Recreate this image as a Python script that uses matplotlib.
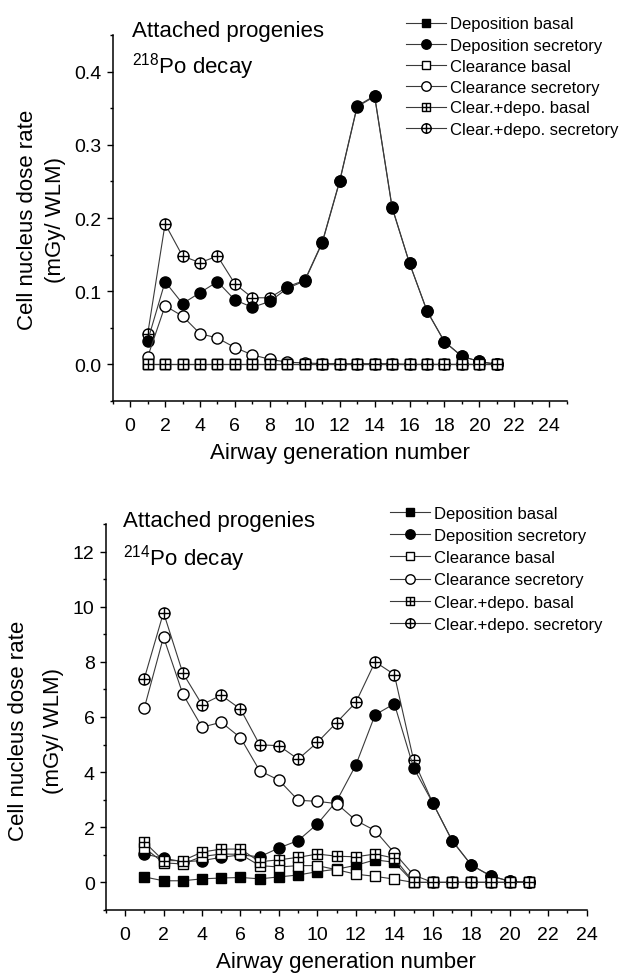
import matplotlib
matplotlib.use("Agg")
import matplotlib.pyplot as plt
from matplotlib.path import Path
from matplotlib.ticker import MultipleLocator, FixedLocator, FormatStrFormatter

plt.rcParams['font.family'] = ['Liberation Sans', 'DejaVu Sans']
plt.rcParams['mathtext.fontset'] = 'custom'
plt.rcParams['mathtext.rm'] = 'Liberation Sans'

# ---------------- data ----------------
generation = [1, 2, 3, 4, 5, 6, 7, 8, 9, 10, 11, 12, 13, 14, 15, 16, 17, 18, 19, 20, 21]

# 218Po decay (top panel)
dep_basal_218 = [0.0, 0.0, 0.0, 0.0, 0.0, 0.0, 0.0, 0.0, 0.0, 0.0, 0.0, 0.0, 0.0, 0.0, 0.0, 0.0, 0.0, 0.0, 0.0, 0.0, 0.0]
dep_sec_218 = [0.032, 0.113, 0.083, 0.098, 0.113, 0.088, 0.078, 0.086, 0.104, 0.114, 0.166, 0.250, 0.352, 0.366, 0.214, 0.138, 0.073, 0.031, 0.011, 0.004, 0.000]
clr_basal_218 = [0.0, 0.0, 0.0, 0.0, 0.0, 0.0, 0.0, 0.0, 0.0, 0.0, 0.0, 0.0, 0.0, 0.0, 0.0, 0.0, 0.0, 0.0, 0.0, 0.0, 0.0]
clr_sec_218 = [0.010, 0.080, 0.066, 0.042, 0.036, 0.023, 0.013, 0.007, 0.003, 0.002, 0.001, 0.001, 0.001, 0.001, 0.001, 0.0, 0.0, 0.0, 0.0, 0.0, 0.0]
cd_basal_218 = [0.0, 0.0, 0.0, 0.0, 0.0, 0.0, 0.0, 0.0, 0.0, 0.0, 0.0, 0.0, 0.0, 0.0, 0.0, 0.0, 0.0, 0.0, 0.0, 0.0, 0.0]
cd_sec_218 = [0.041, 0.192, 0.148, 0.139, 0.148, 0.110, 0.091, 0.091, 0.106, 0.115, 0.167, 0.251, 0.353, 0.367, 0.215, 0.138, 0.073, 0.031, 0.011, 0.004, 0.000]

# 214Po decay (bottom panel)
dep_basal_214 = [0.20, 0.06, 0.06, 0.13, 0.16, 0.18, 0.13, 0.20, 0.27, 0.39, 0.48, 0.62, 0.82, 0.73, 0.0, 0.0, 0.0, 0.0, 0.0, 0.0, 0.0]
dep_sec_214 = [1.03, 0.88, 0.75, 0.79, 0.91, 1.00, 0.93, 1.25, 1.52, 2.12, 2.95, 4.26, 6.08, 6.48, 4.16, 2.88, 1.52, 0.63, 0.24, 0.04, 0.0]
clr_basal_214 = [1.26, 0.71, 0.67, 0.94, 1.03, 1.02, 0.61, 0.56, 0.61, 0.61, 0.46, 0.30, 0.22, 0.12, 0.0, 0.0, 0.0, 0.0, 0.0, 0.0, 0.0]
clr_sec_214 = [6.32, 8.90, 6.84, 5.63, 5.81, 5.25, 4.05, 3.71, 2.98, 2.94, 2.86, 2.25, 1.88, 1.07, 0.27, 0.0, 0.0, 0.0, 0.0, 0.0, 0.0]
cd_basal_214 = [1.47, 0.79, 0.79, 1.10, 1.21, 1.21, 0.75, 0.82, 0.91, 1.03, 0.95, 0.93, 1.03, 0.88, 0.0, 0.0, 0.0, 0.0, 0.0, 0.0, 0.0]
cd_sec_214 = [7.39, 9.79, 7.60, 6.45, 6.79, 6.29, 4.99, 4.96, 4.47, 5.08, 5.80, 6.53, 8.00, 7.54, 4.44, 2.88, 1.52, 0.63, 0.24, 0.04, 0.0]

labels = ['Deposition basal', 'Deposition secretory', 'Clearance basal',
          'Clearance secretory', 'Clear.+depo. basal', 'Clear.+depo. secretory']

# ---------------- markers ----------------
M, L, C = Path.MOVETO, Path.LINETO, Path.CLOSEPOLY
cross = Path([(-1, 0), (1, 0), (0, -1), (0, 1)], [M, L, M, L])
circle_plus = Path.make_compound_path(Path.unit_circle(), cross)
sq = Path([(-1, -1), (1, -1), (1, 1), (-1, 1), (-1, -1)], [M, L, L, L, C])
square_plus = Path.make_compound_path(sq, cross)

LINE_COLOR = '#3a3a3a'
styles = {
    'Deposition basal': dict(marker='s', mfc='black', ms=7.2, z=5),
    'Deposition secretory': dict(marker='o', mfc='black', ms=8.0, z=3),
    'Clearance basal': dict(marker='s', mfc='white', ms=7.2, z=5),
    'Clearance secretory': dict(marker='o', mfc='white', ms=8.0, z=4),
    'Clear.+depo. basal': dict(marker=square_plus, mfc='white', ms=7.2, z=6),
    'Clear.+depo. secretory': dict(marker=circle_plus, mfc='white', ms=8.0, z=2),
}


def draw(ax, series):
    handles = []
    for lab, vals in zip(labels, series):
        st = styles[lab]
        h, = ax.plot(generation, vals, color=LINE_COLOR, lw=0.8,
                     marker=st['marker'], markersize=st['ms'],
                     markerfacecolor=st['mfc'], markeredgecolor='black',
                     markeredgewidth=1.0, zorder=st['z'], label=lab,
                     clip_on=False)
        handles.append(h)
    return handles


def style_axes(ax):
    for s in ['top', 'right']:
        ax.spines[s].set_visible(False)
    for s in ['left', 'bottom']:
        ax.spines[s].set_linewidth(1.1)
    ax.xaxis.set_major_locator(MultipleLocator(2))
    ax.xaxis.set_minor_locator(MultipleLocator(1))
    ax.tick_params(which='major', direction='out', length=4.0, width=1.0,
                   labelsize=14, pad=4)
    ax.tick_params(axis='x', which='major', pad=7.5)
    ax.tick_params(which='minor', direction='out', length=2.4, width=1.0)
    ax.set_xlabel('Airway generation number', fontsize=16, labelpad=5.5)


fig = plt.figure(figsize=(6.24, 9.78), dpi=100)
W, H = 624.0, 978.0

# ---------------- top panel ----------------
ax1 = fig.add_axes([112.7 / W, 1 - 402 / H, 454 / W, 366 / H])
h1 = draw(ax1, [dep_basal_218, dep_sec_218, clr_basal_218, clr_sec_218, cd_basal_218, cd_sec_218])
ax1.set_xlim(-1, 25)
ax1.set_ylim(-0.05, 0.45)
style_axes(ax1)
ax1.yaxis.set_major_locator(FixedLocator([0.0, 0.1, 0.2, 0.3, 0.4]))
ax1.yaxis.set_minor_locator(MultipleLocator(0.05))
ax1.yaxis.set_major_formatter(FormatStrFormatter('%.1f'))

fig.text(131.7 / W, 1 - 36.7 / H, 'Attached progenies', fontsize=16, va='baseline', ha='left')
fig.text(131.7 / W, 1 - 73.3 / H, r'$\mathregular{^{218}}$Po decay', fontsize=16, va='baseline', ha='left')

leg1 = fig.legend(handles=h1, loc='upper left', bbox_to_anchor=(406.0 / W, 1 - 17.5 / H),
                  bbox_transform=fig.transFigure, frameon=False, fontsize=12,
                  borderpad=0, borderaxespad=0, handlelength=2.4, handletextpad=0.25,
                  labelspacing=0.36, markerscale=0.85)

fig.text(27.5 / W, 1 - 220 / H, 'Cell nucleus dose rate', rotation=90, fontsize=16,
         ha='center', va='center')
fig.text(56 / W, 1 - 220 / H, '(mGy/ WLM)', rotation=90, fontsize=16,
         ha='center', va='center')

# ---------------- bottom panel ----------------
ax2 = fig.add_axes([105.8 / W, 1 - 911 / H, 480.9 / W, 386 / H])
h2 = draw(ax2, [dep_basal_214, dep_sec_214, clr_basal_214, clr_sec_214, cd_basal_214, cd_sec_214])
ax2.set_xlim(-1, 24)
ax2.set_ylim(-1, 13)
style_axes(ax2)
ax2.yaxis.set_major_locator(FixedLocator([0, 2, 4, 6, 8, 10, 12]))
ax2.yaxis.set_minor_locator(MultipleLocator(1))

fig.text(122.7 / W, 1 - 526.7 / H, 'Attached progenies', fontsize=16, va='baseline', ha='left')
fig.text(122.7 / W, 1 - 565 / H, r'$\mathregular{^{214}}$Po decay', fontsize=16, va='baseline', ha='left')

leg2 = fig.legend(handles=h2, loc='upper left', bbox_to_anchor=(390.0 / W, 1 - 506.5 / H),
                  bbox_transform=fig.transFigure, frameon=False, fontsize=12,
                  borderpad=0, borderaxespad=0, handlelength=2.4, handletextpad=0.25,
                  labelspacing=0.44, markerscale=0.85)

fig.text(18.5 / W, 1 - 731 / H, 'Cell nucleus dose rate', rotation=90, fontsize=16,
         ha='center', va='center')
fig.text(54 / W, 1 - 731 / H, '(mGy/ WLM)', rotation=90, fontsize=16,
         ha='center', va='center')

fig.savefig('out.png', dpi=100)
